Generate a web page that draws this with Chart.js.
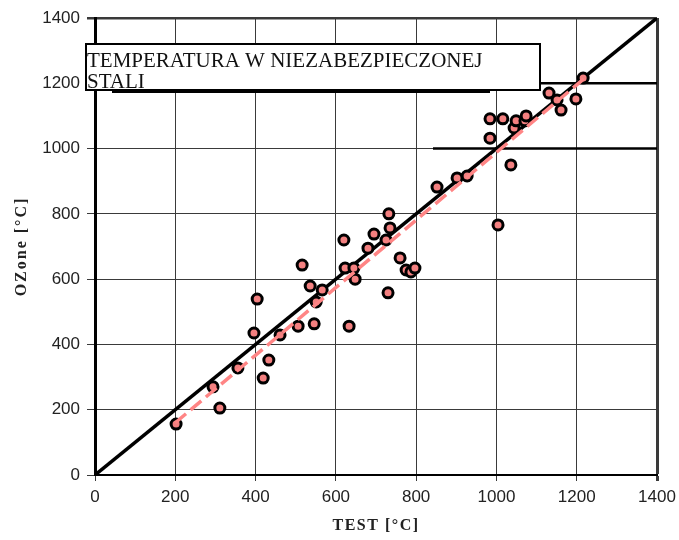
<!DOCTYPE html>
<html><head><meta charset="utf-8">
<script src="https://cdn.jsdelivr.net/npm/chart.js@4.4.1/dist/chart.umd.min.js"></script>
<style>html,body{margin:0;padding:0;background:#fff}#wrap{width:679px;height:540px}</style>
</head><body><div id="wrap"><canvas id="c" width="679" height="540"></canvas></div>
<script>
// ---- data ----
const testValues  = [202,294,311,356,396,404,419,433,461,506,516,536,546,551,566,620,623,633,645,648,680,695,725,730,732,735,760,775,787,797,852,902,927,984,984,1004,1016,1036,1044,1049,1071,1074,1131,1151,1161,1198,1216];
const ozoneValues = [156,270,205,328,435,539,297,352,429,456,643,579,463,530,567,720,634,456,634,600,695,738,720,558,800,757,665,628,622,634,882,910,916,1032,1091,766,1091,950,1063,1085,1085,1100,1170,1149,1118,1152,1216];
const fitX = [200, 1220];
const fitY = [160, 1216];
const identityX = [0, 1400];
const identityY = [0, 1400];
const heavy1000X = [842, 1400];
const heavy1000Y = [1000, 1000];
const heavy1200X = [1109, 1400];
const heavy1200Y = [1200, 1200];
const axisMin = 0, axisMax = 1400, axisStep = 200;
const titleLines = ['TEMPERATURA W NIEZABEZPIECZONEJ', 'STALI'];
const xTitle = 'TEST [°C]';
const yTitle = 'OZone [°C]';

const pts = (xs, ys) => xs.map((x, i) => ({x, y: ys[i]}));

const titleBoxPlugin = {
  id: 'titleBox',
  afterDraw(chart) {
    const c = chart.ctx;
    c.save();
    c.fillStyle = '#000';
    c.fillRect(112, 91, 378, 2);
    c.fillStyle = '#fff';
    c.fillRect(85, 43, 456, 47);
    c.lineWidth = 2;
    c.strokeStyle = '#000';
    c.strokeRect(86, 44, 454, 46);
    c.fillStyle = '#111';
    c.font = '21px "Liberation Serif", "Times New Roman", serif';
    c.textBaseline = 'alphabetic';
    c.textAlign = 'left';
    c.fillText(titleLines[0], 87, 67);
    c.fillText(titleLines[1], 87, 88);
    c.restore();
  }
};

const spacingPlugin = {
  id: 'spacing',
  afterLayout(chart) {
    for (const id of ['x', 'y']) {
      const s = chart.scales[id];
      if (s && !s._wrappedTitle) {
        const orig = s.drawTitle;
        s.drawTitle = function () {
          const c = this.ctx; const prev = c.letterSpacing;
          c.letterSpacing = id === 'x' ? '1.5px' : '2px';
          orig.apply(this, arguments);
          c.letterSpacing = prev;
        };
        s._wrappedTitle = true;
      }
    }
  }
};

const gridCol = '#3a3a3a';
const tickFont = {family: '"Liberation Sans", Arial, sans-serif', size: 17};
const titleFont = {family: '"Liberation Serif", "Times New Roman", serif', size: 16, weight: 'bold'};
const plain = v => String(v);

new Chart(document.getElementById('c'), {
  type: 'scatter',
  data: {
    datasets: [
      {label: 'fit', type: 'line', data: pts(fitX, fitY), borderColor: '#ff8585', borderWidth: 3.5,
       borderDash: [14, 6], pointRadius: 0, fill: false, order: 0},
      {label: 'data', data: pts(testValues, ozoneValues), backgroundColor: '#f38080',
       borderColor: '#000', borderWidth: 3, pointRadius: 5, order: 1},
      {label: 'identity', type: 'line', data: pts(identityX, identityY), borderColor: '#000', borderWidth: 3.5,
       pointRadius: 0, fill: false, order: 2},
      {label: 'g1000', type: 'line', data: pts(heavy1000X, heavy1000Y), borderColor: '#000', borderWidth: 2.5,
       pointRadius: 0, fill: false, order: 3},
      {label: 'g1200', type: 'line', data: pts(heavy1200X, heavy1200Y), borderColor: '#000', borderWidth: 2.5,
       pointRadius: 0, fill: false, order: 3}
    ]
  },
  options: {
    responsive: false,
    animation: false,
    layout: {padding: {top: 18, right: 22, left: 0, bottom: 0}},
    plugins: {legend: {display: false}, tooltip: {enabled: false}},
    scales: {
      x: {
        type: 'linear', min: axisMin, max: axisMax,
        ticks: {stepSize: axisStep, color: '#222', font: tickFont, padding: 6, maxRotation: 0, autoSkip: false, callback: plain},
        grid: {color: gridCol, lineWidth: c => c.tick && c.tick.value === axisMax ? 3 : 1, tickLength: 6},
        border: {color: '#000', width: 2},
        title: {display: true, text: xTitle, color: '#222', font: titleFont, padding: {top: 0, bottom: 5}},
        afterFit: s => { s.height = 65; s.paddingLeft = 0; s.paddingRight = 0; }
      },
      y: {
        type: 'linear', min: axisMin, max: axisMax,
        ticks: {stepSize: axisStep, color: '#222', font: tickFont, padding: 7, callback: plain},
        grid: {color: gridCol, lineWidth: c => c.tick && c.tick.value === axisMax ? 2.5 : 1, tickLength: 8},
        border: {color: '#000', width: 3},
        title: {display: true, text: yTitle, color: '#222', font: titleFont, padding: {top: 12, bottom: 0}},
        afterFit: s => { s.width = 95; s.paddingTop = 0; s.paddingBottom = 0; }
      }
    }
  },
  plugins: [spacingPlugin, titleBoxPlugin]
});
</script>
</body></html>
